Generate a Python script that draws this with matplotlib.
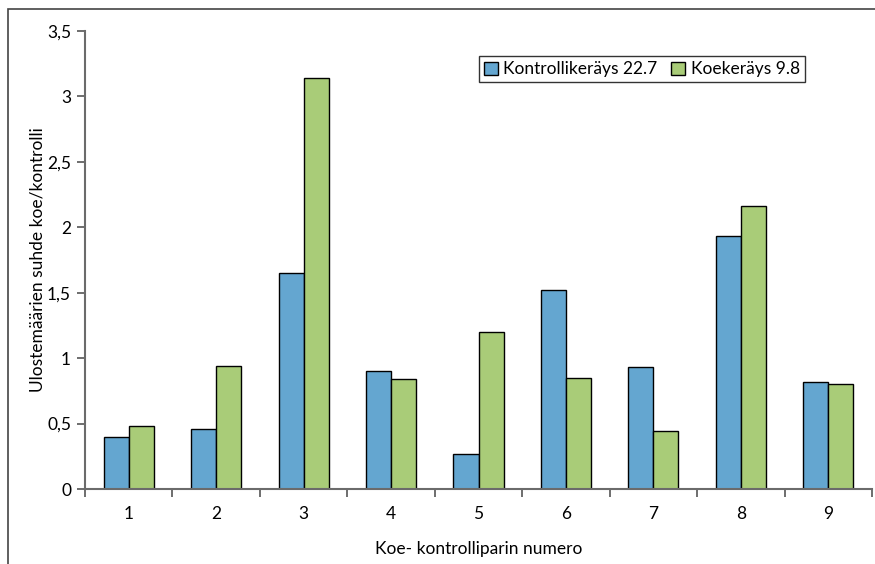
import numpy as np
import matplotlib.pyplot as plt
from matplotlib.patches import Rectangle
from matplotlib.ticker import FuncFormatter

# koe-kontrolliparit ja ulostemäärien suhteet
pairs = ['1', '2', '3', '4', '5', '6', '7', '8', '9']
kontrolli = [0.40, 0.46, 1.65, 0.90, 0.27, 1.52, 0.93, 1.93, 0.82]
koe = [0.48, 0.94, 3.14, 0.84, 1.20, 0.85, 0.44, 2.16, 0.80]
series_names = ['Kontrollikeräys 22.7', 'Koekeräys 9.8']

plt.rcParams['font.family'] = ['Lato', 'DejaVu Sans']

fig = plt.figure(figsize=(8.75, 5.64), dpi=100)
ax = fig.add_axes([85/875, 75/564, 787/875, 458/564])

x = np.arange(len(pairs))
w = 0.286
ax.bar(x - w/2, kontrolli, w, color='#64A6D0', edgecolor='black', linewidth=1.0, label=series_names[0])
ax.bar(x + w/2, koe, w, color='#A9CC78', edgecolor='black', linewidth=1.0, label=series_names[1])

ax.set_xlim(-0.5, len(pairs) - 0.5)
ax.set_ylim(0, 3.5)
ax.set_yticks(np.arange(0, 3.51, 0.5))
ax.yaxis.set_major_formatter(FuncFormatter(lambda v, p: ('%g' % v).replace('.', ',')))

# kategoriarajat ala-akselille, nimet keskelle
ax.set_xticks(np.arange(-0.5, len(pairs), 1.0))
ax.set_xticklabels([])
ax.set_xticks(x, minor=True)
ax.set_xticklabels(pairs, minor=True)
ax.tick_params(axis='x', which='minor', length=0, pad=12, labelsize=12.5)
ax.tick_params(axis='x', which='major', length=6, color='#555555', width=1.2)
ax.tick_params(axis='y', length=6, color='#555555', width=1.2, labelsize=12.5, pad=4)

for s in ['top', 'right']:
    ax.spines[s].set_visible(False)
for s in ['left', 'bottom']:
    ax.spines[s].set_color('#6b6b6b')
    ax.spines[s].set_linewidth(1.5)

ax.set_ylabel('Ulostemäärien suhde koe/kontrolli', fontsize=12.5, labelpad=1)
ax.set_xlabel('Koe- kontrolliparin numero', fontsize=12.5, labelpad=14)

leg = ax.legend(loc='upper left', bbox_to_anchor=(479/875, 1 - 56/564), bbox_transform=fig.transFigure,
                ncol=2, frameon=True, fancybox=False, fontsize=12.5, handlelength=0.8, handleheight=0.8,
                handletextpad=0.3, columnspacing=0.8, borderpad=0.3, borderaxespad=0)
leg.get_frame().set_edgecolor('black')
leg.get_frame().set_linewidth(1.0)

# kehys kuvan ympärillä
fig.patches.append(Rectangle((8/875, -0.1), 1.0, 1 - 9/564 + 0.1, transform=fig.transFigure,
                             fill=False, edgecolor='#444444', linewidth=1.2))

fig.savefig('out.png', dpi=100)
